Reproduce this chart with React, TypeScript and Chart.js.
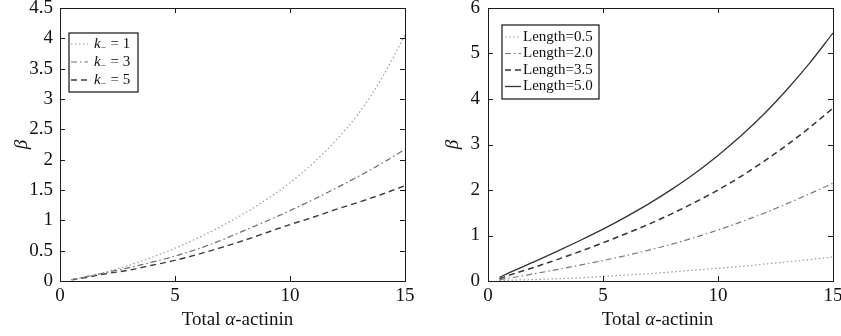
import React, { useEffect, useRef } from "react";
import { Chart, registerables } from "chart.js";

Chart.register(...registerables);

// ---------- data ----------
const xValues = [0.5, 1, 2, 3, 4, 5, 6, 7, 8, 9, 10, 11, 12, 13, 14, 15];

// left panel: beta vs total alpha-actinin for different k-
const kValues = ["1", "3", "5"];
const betaK1 = [0.02, 0.06, 0.15, 0.26, 0.39, 0.54, 0.71, 0.9, 1.11, 1.35, 1.62, 1.94, 2.32, 2.77, 3.35, 4.05];
const betaK3 = [0.02, 0.06, 0.14, 0.22, 0.31, 0.41, 0.53, 0.67, 0.83, 0.99, 1.16, 1.34, 1.53, 1.73, 1.94, 2.17];
const betaK5 = [0.02, 0.05, 0.12, 0.18, 0.26, 0.34, 0.44, 0.55, 0.67, 0.8, 0.93, 1.05, 1.18, 1.3, 1.43, 1.57];

// right panel: beta vs total alpha-actinin for different lengths
const lengthLabels = ["Length=0.5", "Length=2.0", "Length=3.5", "Length=5.0"];
const betaL05 = [0.01, 0.02, 0.03, 0.05, 0.07, 0.1, 0.13, 0.16, 0.2, 0.24, 0.28, 0.32, 0.37, 0.42, 0.47, 0.53];
const betaL20 = [0.03, 0.07, 0.16, 0.25, 0.35, 0.45, 0.56, 0.68, 0.81, 0.96, 1.12, 1.3, 1.49, 1.7, 1.92, 2.15];
const betaL35 = [0.05, 0.14, 0.3, 0.47, 0.65, 0.84, 1.04, 1.25, 1.48, 1.73, 2.0, 2.3, 2.63, 2.99, 3.38, 3.8];
const betaL50 = [0.08, 0.2, 0.42, 0.65, 0.89, 1.14, 1.41, 1.7, 2.02, 2.37, 2.76, 3.19, 3.67, 4.21, 4.8, 5.45];

const xTicks = [0, 5, 10, 15];
const leftYTicks = [0, 0.5, 1, 1.5, 2, 2.5, 3, 3.5, 4, 4.5];
const rightYTicks = [0, 1, 2, 3, 4, 5, 6];

const xTitle = ["Total ", "α", "-actinin"];
const yTitle = "β";

const SERIF = "'Liberation Serif', 'Times New Roman', 'DejaVu Serif', serif";

// ---------- plugins ----------
const framePlugin = {
  id: "frame",
  afterDatasetsDraw(chart: any) {
    const { ctx, chartArea: a, scales } = chart;
    ctx.save();
    ctx.strokeStyle = "#1a1a1a";
    ctx.lineWidth = 1;
    ctx.strokeRect(Math.round(a.left) + 0.5, Math.round(a.top) + 0.5, Math.round(a.width), Math.round(a.height));
    const L = 5;
    ctx.beginPath();
    for (const t of scales.x.ticks) {
      const px = Math.round(scales.x.getPixelForValue(t.value)) + 0.5;
      ctx.moveTo(px, a.bottom);
      ctx.lineTo(px, a.bottom - L);
      ctx.moveTo(px, a.top);
      ctx.lineTo(px, a.top + L);
    }
    for (const t of scales.y.ticks) {
      const py = Math.round(scales.y.getPixelForValue(t.value)) + 0.5;
      ctx.moveTo(a.left, py);
      ctx.lineTo(a.left + L, py);
      ctx.moveTo(a.right, py);
      ctx.lineTo(a.right - L, py);
    }
    ctx.stroke();
    ctx.restore();
  },
};

const titlesPlugin = {
  id: "titles",
  afterDraw(chart: any, _args: any, opts: any) {
    const { ctx, chartArea: a } = chart;
    ctx.save();
    ctx.fillStyle = "#111";
    ctx.textBaseline = "middle";
    const fN = `19px ${SERIF}`;
    const fI = `italic 19px ${SERIF}`;
    const fonts = [fN, fI, fN];
    let total = 0;
    const widths = xTitle.map((s, i) => {
      ctx.font = fonts[i];
      const w = ctx.measureText(s).width;
      total += w;
      return w;
    });
    let x = (a.left + a.right) / 2 + opts.xOffset - total / 2;
    xTitle.forEach((s, i) => {
      ctx.font = fonts[i];
      ctx.textAlign = "left";
      ctx.fillText(s, x, opts.xTitleY);
      x += widths[i];
    });
    ctx.translate(opts.yTitleX, (a.top + a.bottom) / 2 + opts.yOffset);
    ctx.rotate(-Math.PI / 2);
    ctx.font = `italic 19px ${SERIF}`;
    ctx.textAlign = "center";
    ctx.fillText(yTitle, 0, 0);
    ctx.restore();
  },
};

const legendPlugin = {
  id: "boxLegend",
  afterDraw(chart: any, _args: any, opts: any) {
    const { ctx, chartArea: a } = chart;
    const bx = a.left + opts.dx;
    const by = a.top + opts.dy;
    ctx.save();
    ctx.fillStyle = "#fff";
    ctx.fillRect(bx, by, opts.w, opts.h);
    ctx.strokeStyle = "#111";
    ctx.lineWidth = 1.2;
    ctx.strokeRect(bx, by, opts.w, opts.h);
    chart.data.datasets.forEach((ds: any, i: number) => {
      const y = by + opts.rowStart + i * opts.rowGap;
      ctx.beginPath();
      ctx.strokeStyle = ds.borderColor;
      ctx.lineWidth = ds.borderWidth;
      ctx.setLineDash(ds.borderDash || []);
      ctx.moveTo(bx + opts.s0, y);
      ctx.lineTo(bx + opts.s1, y);
      ctx.stroke();
      ctx.setLineDash([]);
      ctx.fillStyle = "#111";
      ctx.textBaseline = "middle";
      ctx.textAlign = "left";
      let tx = bx + opts.tx;
      if (opts.kStyle) {
        ctx.font = `italic 15px ${SERIF}`;
        ctx.fillText("k", tx, y);
        tx += ctx.measureText("k").width;
        ctx.font = `9px ${SERIF}`;
        ctx.fillText("−", tx, y + 4);
        tx += ctx.measureText("−").width + 1;
        ctx.font = `15px ${SERIF}`;
        ctx.fillText(" = " + kValues[i], tx, y);
      } else {
        ctx.font = `15px ${SERIF}`;
        ctx.fillText(ds.label, tx, y);
      }
    });
    ctx.restore();
  },
};

// ---------- helpers ----------
function series(values: number[]) {
  return xValues.map((x, i) => ({ x, y: values[i] }));
}

function makeConfig(p: any): any {
  return {
    type: "line",
    data: { datasets: p.datasets },
    plugins: [framePlugin, titlesPlugin, legendPlugin],
    options: {
      responsive: false,
      animation: false,
      events: [],
      layout: { padding: p.padding },
      elements: {
        point: { radius: 0 },
        line: { cubicInterpolationMode: "monotone", borderCapStyle: "butt" },
      },
      plugins: {
        legend: { display: false },
        tooltip: { enabled: false },
        titles: p.titles,
        boxLegend: p.legend,
      },
      scales: {
        x: {
          type: "linear",
          min: 0,
          max: 15,
          grid: { display: false, drawTicks: false },
          border: { display: false },
          afterBuildTicks: (s: any) => {
            s.ticks = xTicks.map((v) => ({ value: v }));
          },
          afterFit: (s: any) => {
            s.height = p.xHeight;
            s.paddingLeft = 0;
            s.paddingRight = 0;
          },
          ticks: {
            color: "#111",
            font: { size: 19, family: SERIF },
            padding: 4,
            maxRotation: 0,
            autoSkip: false,
            callback: (v: any) => String(+v),
          },
        },
        y: {
          type: "linear",
          min: 0,
          max: p.yMax,
          grid: { display: false, drawTicks: false },
          border: { display: false },
          afterBuildTicks: (s: any) => {
            s.ticks = p.yTicks.map((v: number) => ({ value: v }));
          },
          afterFit: (s: any) => {
            s.width = p.yWidth;
            s.paddingTop = 0;
            s.paddingBottom = 0;
          },
          ticks: {
            color: "#111",
            font: { size: 19, family: SERIF },
            padding: p.yPad,
            autoSkip: false,
            callback: (v: any) => String(+v),
          },
        },
      },
    },
  };
}

function ChartCanvas({ config, width, height, left }: any) {
  const ref = useRef<HTMLCanvasElement | null>(null);
  useEffect(() => {
    if (!ref.current) return;
    const chart = new Chart(ref.current, config);
    return () => chart.destroy();
  }, []);
  return (
    <canvas
      ref={ref}
      width={width}
      height={height}
      style={{ position: "absolute", left, top: 0, width, height }}
    />
  );
}

export default function App() {
  const leftConfig = makeConfig({
    datasets: [
      { label: "k− = 1", data: series(betaK1), borderColor: "#9a9a9a", borderWidth: 1.2, borderDash: [1.5, 2.5] },
      { label: "k− = 3", data: series(betaK3), borderColor: "#6c6c6c", borderWidth: 1.2, borderDash: [6, 3, 1.5, 3] },
      { label: "k− = 5", data: series(betaK5), borderColor: "#3c3c3c", borderWidth: 1.4, borderDash: [6, 4] },
    ],
    padding: { left: 0, right: 15, top: 8, bottom: 0 },
    xHeight: 55,
    yWidth: 60,
    yPad: 7,
    yMax: 4.5,
    yTicks: leftYTicks,
    titles: { xOffset: 5, xTitleY: 320, yTitleX: 22, yOffset: 0 },
    legend: { kStyle: true, dx: 9, dy: 25, w: 69, h: 59, rowStart: 11, rowGap: 18, s0: 2, s1: 19, tx: 25 },
  });

  const rightConfig = makeConfig({
    datasets: [
      { label: lengthLabels[0], data: series(betaL05), borderColor: "#9a9a9a", borderWidth: 1.2, borderDash: [1.5, 2.5] },
      { label: lengthLabels[1], data: series(betaL20), borderColor: "#7a7a7a", borderWidth: 1.2, borderDash: [6, 3, 1.5, 3] },
      { label: lengthLabels[2], data: series(betaL35), borderColor: "#333333", borderWidth: 1.5, borderDash: [6, 4] },
      { label: lengthLabels[3], data: series(betaL50), borderColor: "#333333", borderWidth: 1.3 },
    ],
    padding: { left: 0, right: 8, top: 8, bottom: 0 },
    xHeight: 55,
    yWidth: 68,
    yPad: 8,
    yMax: 6,
    yTicks: rightYTicks,
    titles: { xOffset: -3, xTitleY: 320, yTitleX: 33, yOffset: 0 },
    legend: { kStyle: false, dx: 14, dy: 17, w: 97, h: 74, rowStart: 12, rowGap: 16.5, s0: 3, s1: 19, tx: 21 },
  });

  return (
    <div style={{ position: "absolute", left: 0, top: 0, width: 841, height: 336, background: "#fff", overflow: "hidden" }}>
      <ChartCanvas config={leftConfig} width={420} height={336} left={0} />
      <ChartCanvas config={rightConfig} width={421} height={336} left={420} />
    </div>
  );
}
